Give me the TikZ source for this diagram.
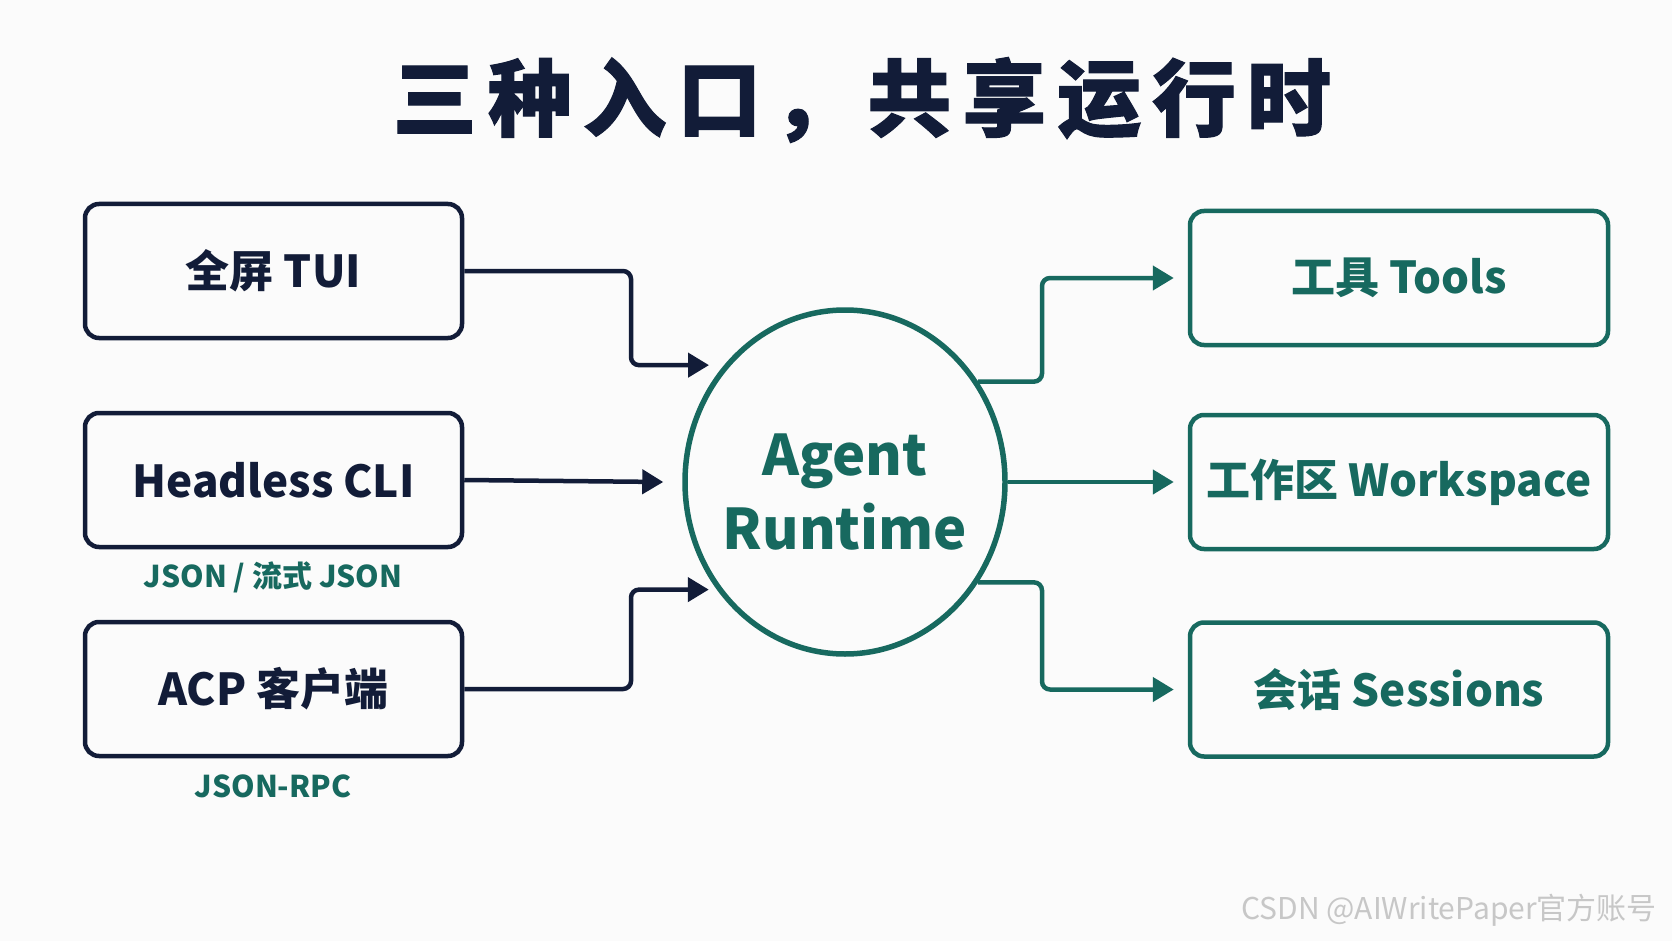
\documentclass[tikz,border=0pt]{standalone}
\usepackage{fontspec}
\setmainfont{Noto Sans CJK SC}
\usetikzlibrary{shapes.geometric}
\usetikzlibrary{calc}
\usetikzlibrary{arrows.meta}

\definecolor{navyink}{HTML}{121C38}
\definecolor{rtteal}{HTML}{17695F}
\definecolor{pagebg}{HTML}{FBFBFB}

\tikzset{
    entrybox/.style={draw=navyink,line width=4.5pt,rounded corners=14pt,
        minimum width=377pt,minimum height=134pt,text=navyink,
        font=\fontsize{44}{48}\selectfont\bfseries},
    partbox/.style={entrybox,draw=rtteal,text=rtteal,minimum width=418pt},
    protolabel/.style={text=rtteal,font=\fontsize{30}{34}\selectfont\bfseries},
    navyarrow/.style={draw=navyink,line width=4.5pt,rounded corners=8pt,
        -{Triangle[length=21pt,width=24pt]}},
    tealarrow/.style={navyarrow,draw=rtteal}
}

\begin{document}
\begin{tikzpicture}[x=1pt,y=-1pt]
                    \fill[pagebg] (0,0) rectangle (1672,941);
                    \useasboundingbox (0,0) rectangle (1672,941);

                    \node[text=navyink,font=\fontsize{84}{90}\selectfont\bfseries\addfontfeature{LetterSpace=13,FakeBold=1.2}] (title) at (862,100) {三种入口，共享运行时};

                    \node[entrybox] (tui) at (273.5,271) {全屏 TUI};
                    \node[entrybox] (cli) at (273.5,480) {Headless CLI};
                    \node[entrybox] (acp) at (273.5,689) {ACP 客户端};

                    \node[protolabel] (clifmt) at (273,577) {JSON / 流式 JSON};
                    \node[protolabel] (acpfmt) at (273,786) {JSON-RPC};

                    \node[ellipse,draw=rtteal,line width=5.5pt,inner sep=0pt,
                        minimum width=320pt,minimum height=344pt] (rt) at (845,482) {};
                    \node[align=center,text=rtteal,font=\fontsize{56}{74}\selectfont\bfseries] (rtname) at (845,492) {Agent\\Runtime};

                    \node[partbox] (tools) at (1399,278) {工具 Tools};
                    \node[partbox] (ws) at (1399,482) {工作区 Workspace};
                    \node[partbox] (sess) at (1399,689.5) {会话 Sessions};

                    \coordinate (inbend) at (631,482);
                    \coordinate (outbend) at (1042,482);

                    \draw[navyarrow] (tui.east) -- (tui.east -| inbend) |- ([xshift=-15pt]rt.136);
                    \draw[navyarrow] (cli.east) -- ([xshift=-19pt]rt.west);
                    \draw[navyarrow] (acp.east) -- (acp.east -| inbend) |- ([xshift=-8pt]rt.-140);

                    \draw[tealarrow] (rt.37) -- (rt.37 -| outbend) |- ([xshift=-14pt]tools.west);
                    \draw[tealarrow] (rt.east) -- ([xshift=-14pt]ws.west);
                    \draw[tealarrow] (rt.-37) -- (rt.-37 -| outbend) |- ([xshift=-14pt]sess.west);

                    \node[text=black!22,font=\fontsize{30}{32}\selectfont] (mark) at (1449,910) {CSDN @AIWritePaper官方账号};
\end{tikzpicture}
\end{document}
